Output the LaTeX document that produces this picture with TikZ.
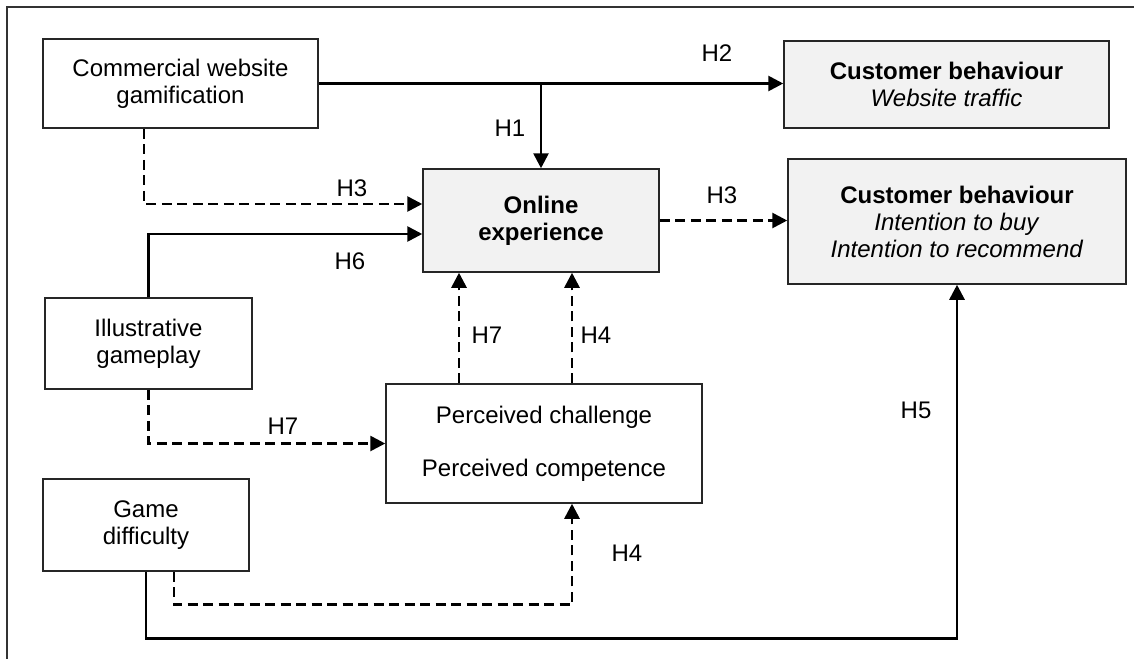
\documentclass[tikz,border=0pt]{standalone}
\usepackage{fontspec}
\setmainfont{Liberation Sans}
\usetikzlibrary{arrows.meta}
\begin{document}
\begin{tikzpicture}[x=1pt,y=-1pt,
  every node/.style={font=\fontsize{24}{27}\selectfont},
  box/.style={draw=black!85, line width=1.5pt, fill=white, align=center, inner sep=0pt},
  gbox/.style={box, fill=gray!10},
  conn/.style={line width=2.7pt, -{Triangle[length=15pt,width=15pt]}},
  dconn/.style={conn, dash pattern=on 10pt off 5.5pt},
  lbl/.style={inner sep=0pt}]
\useasboundingbox (0,0) rectangle (1134,659);
\draw[line width=1.4pt, black!80] (1134,7) -- (7,7) -- (7,659);

\node[box, minimum width=275pt, minimum height=89pt] (cwg) at (180.5,83.5) {Commercial website\\gamification};
\node[gbox, minimum width=325pt, minimum height=87pt] (cb1) at (946.5,84.5) {\textbf{Customer behaviour}\\\textit{Website traffic}};
\node[gbox, minimum width=236pt, minimum height=103pt] (oe) at (541,220.5) {\textbf{Online}\\\textbf{experience}};
\node[gbox, minimum width=338pt, minimum height=125pt] (cb2) at (957,221.5) {\textbf{Customer behaviour}\\\textit{Intention to buy}\\\textit{Intention to recommend}};
\node[box, minimum width=207pt, minimum height=91pt] (ig) at (148.5,343.5) {Illustrative\\gameplay};
\node[box, minimum width=316pt, minimum height=119pt] (pc) at (544,443.5) {Perceived challenge\\[26pt]Perceived competence};
\node[box, minimum width=206pt, minimum height=92pt] (gd) at (146,525) {Game\\difficulty};

\coordinate (j) at (oe.north |- cwg.east);
\coordinate (c3) at ([xshift=-36.5pt]cwg.south);
\coordinate (o3) at ([yshift=16.5pt]oe.west);
\coordinate (o6) at ([yshift=-13.5pt]oe.west);
\coordinate (p7) at ([xshift=-85pt]pc.north);
\coordinate (p4) at ([xshift=28pt]pc.north);
\coordinate (q4) at ([xshift=28pt]pc.south);
\coordinate (g4) at ([xshift=28pt]gd.south);

\draw[conn] (cwg.east) -- (cb1.west |- cwg.east);
\draw[conn] (j) -- (oe.north);
\draw[dconn] (c3) |- (o3);
\draw[conn] (ig.north) |- (o6);
\draw[dconn] (oe.east) -- (cb2.west |- oe.east);
\draw[dconn] (ig.south) |- (pc.west);
\draw[dconn] (p7) -- (p7 |- oe.south);
\draw[dconn] (p4) -- (p4 |- oe.south);
\draw[dconn] (g4) -- ++(0,33) -| (q4);
\draw[conn] (gd.south) -- ++(0,67) -| (cb2.south);

\node[lbl] (h2) at (717,53) {H2};
\node[lbl] (h1) at (510,128) {H1};
\node[lbl] (h3a) at (352,188) {H3};
\node[lbl] (h3b) at (722,195) {H3};
\node[lbl] (h6) at (350,261) {H6};
\node[lbl] (h7a) at (487,335) {H7};
\node[lbl] (h4a) at (596,335) {H4};
\node[lbl] (h7b) at (283,426) {H7};
\node[lbl] (h5) at (916,410) {H5};
\node[lbl] (h4b) at (627,553) {H4};
\end{tikzpicture}
\end{document}
